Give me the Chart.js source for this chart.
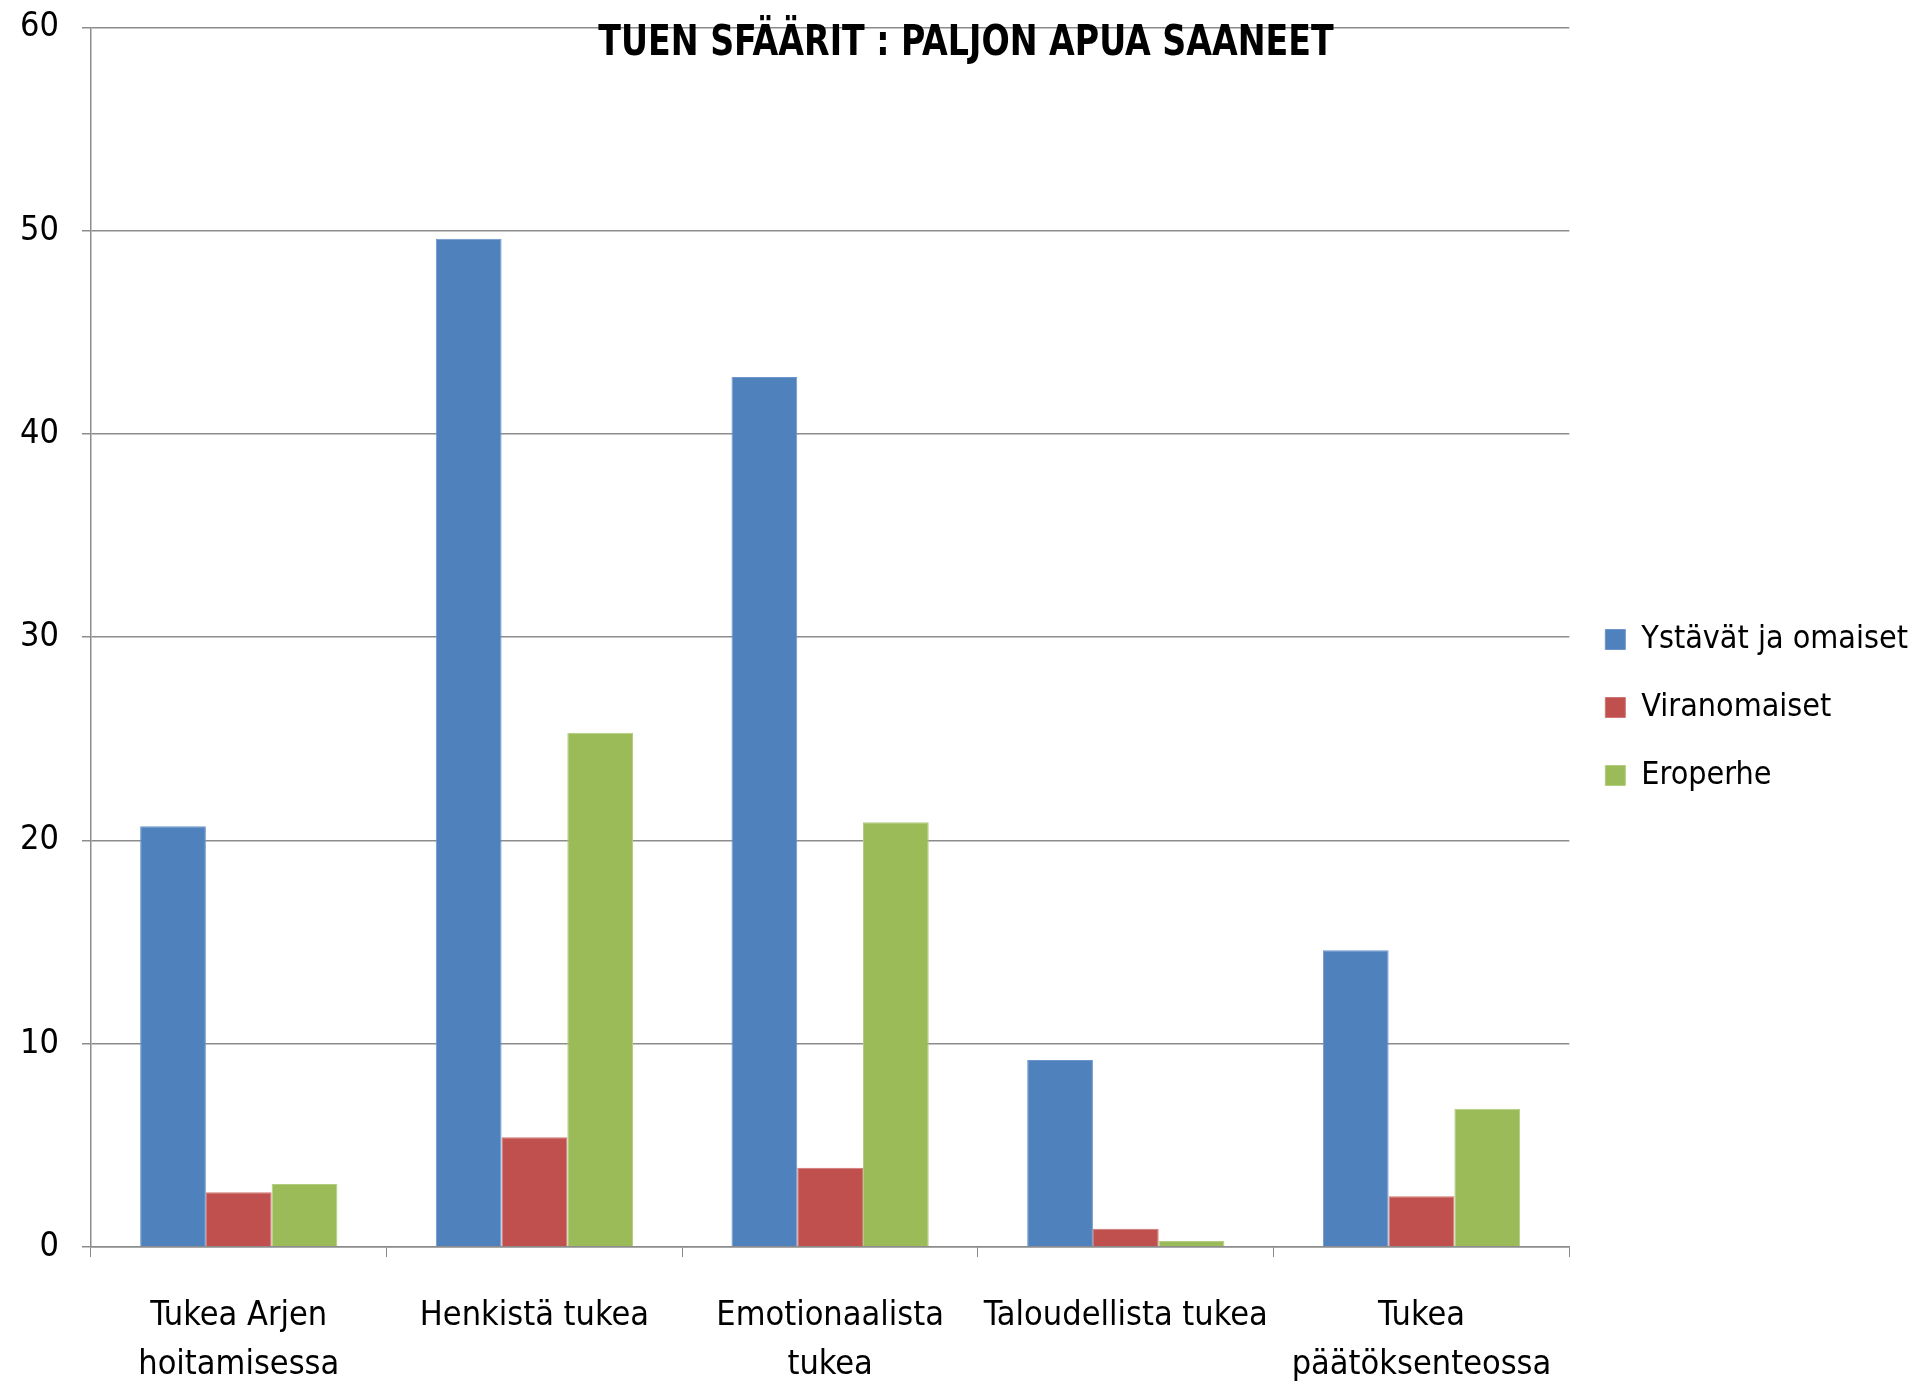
<!DOCTYPE html>
<html lang="fi">
<head>
<meta charset="UTF-8">
<title>Tuen sfäärit</title>
<script src="https://cdn.jsdelivr.net/npm/chart.js"></script>
<style>
  html, body { margin: 0; padding: 0; background: #fff; overflow: hidden; }
  /* kangas hieman ikkunaa korkeampi: alimman rivin alle ei jää tyhjää */
  #wrap { width: 1922px; height: 1425px; }
</style>
</head>
<body>
<div id="wrap"><canvas id="kaavio"></canvas></div>
<script>
  // luokat (x-akseli), rivitetty kuten alkuperäisessä
  const kategoriat = [
    ['Tukea Arjen', 'hoitamisessa'],
    'Henkistä tukea',
    ['Emotionaalista', 'tukea'],
    'Taloudellista tukea',
    ['Tukea', 'päätöksenteossa']
  ];

  // sarjat
  const sarjaNimet = ['Ystävät ja omaiset', 'Viranomaiset', 'Eroperhe'];
  const ystavat     = [20.7, 49.6, 42.8, 9.2, 14.6];
  const viranomaiset = [2.7, 5.4, 3.9, 0.9, 2.5];
  const eroperhe    = [3.1, 25.3, 20.9, 0.3, 6.8];

  // y-akselin asteikko
  const yMin = 0, yMax = 60, yAskel = 10;

  const otsikko = 'TUEN SFÄÄRIT : PALJON APUA SAANEET';

  const fontti = "'Liberation Sans Narrow', 'DejaVu Sans Condensed', 'Open Sans', sans-serif";
  const harmaa = '#8c8c8c';

  // otsikko piirretään kaavioalueen päälle, kuten Excelissä
  const otsikkoPlugin = {
    id: 'otsikko',
    afterDraw(chart) {
      const ctx = chart.ctx;
      ctx.save();
      ctx.translate(966, 44);
      ctx.scale(0.88, 1);   // kapeampi kirjain kuin saatavilla olevassa fontissa
      ctx.font = "bold 42px " + fontti;
      ctx.fillStyle = '#000';
      ctx.textAlign = 'center';
      ctx.textBaseline = 'middle';
      ctx.fillText(otsikko, 0, 0);
      ctx.restore();
    }
  };

  const data = {
    labels: kategoriat,
    datasets: [
      { label: sarjaNimet[0], data: ystavat, backgroundColor: '#4F81BD', borderColor: '#6b96cc', borderWidth: 1 },
      { label: sarjaNimet[1], data: viranomaiset, backgroundColor: '#C0504D', borderColor: '#d07572', borderWidth: 1 },
      { label: sarjaNimet[2], data: eroperhe, backgroundColor: '#9BBB59', borderColor: '#b3cd80', borderWidth: 1 }
    ]
  };

  new Chart(document.getElementById('kaavio'), {
    type: 'bar',
    data: data,
    plugins: [otsikkoPlugin],
    options: {
      responsive: true,
      maintainAspectRatio: false,
      animation: false,
      layout: { padding: { left: 8, right: 4, top: -10, bottom: 0 } },
      datasets: {
        bar: { categoryPercentage: 0.667, barPercentage: 1.0 }
      },
      plugins: {
        title: { display: false },
        tooltip: { enabled: false },
        legend: {
          position: 'right',
          labels: {
            boxWidth: 20,
            boxHeight: 20,
            padding: 36,
            color: '#000',
            font: { family: fontti, size: 32 }
          }
        }
      },
      scales: {
        x: {
          grid: {
            display: true,
            drawOnChartArea: false,
            drawTicks: true,
            tickLength: 10,
            color: harmaa,
            offset: true
          },
          border: { color: harmaa, width: 1.5 },
          ticks: {
            color: '#000',
            padding: 35,
            maxRotation: 0,
            autoSkip: false,
            font: { family: fontti, size: 34, lineHeight: 1.44 }
          }
        },
        y: {
          min: yMin,
          max: yMax,
          // kapeampi akseli ja pienempi yläreuna kuin oletus
          afterFit(scale) {
            scale.width -= 11;
            scale.paddingTop -= 16;
          },
          grid: {
            color: harmaa,
            lineWidth: 1.5,
            drawTicks: true,
            tickLength: 9
          },
          border: { color: harmaa, width: 1.5 },
          ticks: {
            stepSize: yAskel,
            color: '#000',
            padding: 23,
            font: { family: fontti, size: 34 }
          }
        }
      }
    }
  });
</script>
</body>
</html>
